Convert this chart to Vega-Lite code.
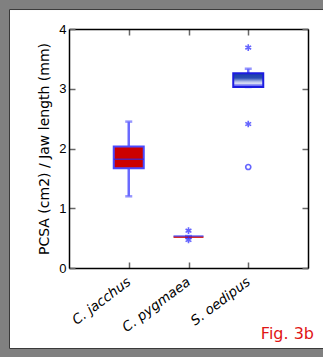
{
  "$schema": "https://vega.github.io/schema/vega-lite/v6.json",
  "width": 239,
  "height": 239,
  "autosize": {"type": "none"},
  "padding": {"left": 69, "top": 29, "right": 15, "bottom": 89},
  "background": "#808080",
  "config": {"view": {"stroke": null}},
  "title": {
    "text": "Fig. 3b",
    "orient": "bottom",
    "anchor": "end",
    "frame": "group",
    "offset": -23,
    "dx": 6,
    "font": "DejaVu Sans",
    "fontSize": 16,
    "fontWeight": "normal",
    "color": "#e01515"
  },
  "datasets": {
    "boxes": [
      {"sp": "C. jacchus", "lo": 1.2, "q1": 1.67, "med": 1.82, "q3": 2.035, "hi": 2.45},
      {"sp": "C. pygmaea", "lo": 0.505, "q1": 0.505, "med": 0.535, "q3": 0.53, "hi": 0.535},
      {"sp": "S. oedipus", "lo": 3.03, "q1": 3.03, "med": 3.06, "q3": 3.26, "hi": 3.335}
    ],
    "outliers": [
      {"sp": "C. pygmaea", "v": 0.625, "kind": "star"},
      {"sp": "C. pygmaea", "v": 0.47, "kind": "star"},
      {"sp": "S. oedipus", "v": 3.69, "kind": "star"},
      {"sp": "S. oedipus", "v": 2.41, "kind": "star"},
      {"sp": "S. oedipus", "v": 1.69, "kind": "circle"}
    ],
    "frame": [{"x0": -0.9958, "x1": 4.6, "y0": 4.326, "y1": -1.3473}]
  },
  "layer": [
    {
      "data": {"name": "frame"},
      "mark": {"type": "rect", "fill": "white", "stroke": "#3a3a3a", "strokeWidth": 1, "clip": false},
      "encoding": {
        "x": {"field": "x0", "type": "quantitative", "scale": {"domain": [0, 4], "nice": false, "zero": false}, "axis": null},
        "x2": {"field": "x1"},
        "y": {"field": "y0", "type": "quantitative", "scale": {"domain": [0, 4], "nice": false, "zero": false}, "axis": null},
        "y2": {"field": "y1"}
      }
    },
    {
      "layer": [
        {
          "data": {"name": "boxes"},
          "mark": {"type": "rule", "color": "#6a6aff", "strokeWidth": 2.5},
          "encoding": {
            "x": {
              "field": "sp", "type": "nominal",
              "scale": {"type": "point", "padding": 1, "domain": ["C. jacchus", "C. pygmaea", "S. oedipus"]},
              "axis": {
                "orient": "bottom", "title": null, "grid": false, "zindex": 1,
                "domainColor": "black", "domainWidth": 1.5,
                "tickColor": "#666666", "tickWidth": 1.5, "tickSize": -6,
                "labelAngle": -37, "labelAlign": "right", "labelBaseline": "middle",
                "labelPadding": 18, "labelFont": "DejaVu Sans", "labelFontStyle": "italic",
                "labelFontSize": 13.5, "labelColor": "black"
              }
            },
            "y": {
              "field": "lo", "type": "quantitative",
              "scale": {"domain": [0, 4], "nice": false},
              "axis": {
                "orient": "left", "values": [0, 1, 2, 3, 4], "grid": false, "zindex": 1,
                "domainColor": "black", "domainWidth": 1.5,
                "tickColor": "#666666", "tickWidth": 1.5, "tickSize": -6,
                "labelPadding": 9, "labelFont": "Liberation Sans", "labelFontSize": 13, "labelColor": "black",
                "title": "PCSA (cm2) / Jaw length (mm)",
                "titleFont": "DejaVu Sans", "titleFontSize": 14, "titleFontWeight": "normal",
                "titleColor": "black", "titlePadding": 7
              }
            },
            "y2": {"field": "hi"}
          }
        },
        {
          "data": {"name": "boxes"},
          "mark": {"type": "tick", "orient": "horizontal", "size": 7, "thickness": 2.5, "color": "#6a6aff"},
          "encoding": {
            "x": {"field": "sp", "type": "nominal", "axis": null},
            "y": {"field": "hi", "type": "quantitative", "axis": null}
          }
        },
        {
          "data": {"name": "boxes"},
          "mark": {"type": "tick", "orient": "horizontal", "size": 7, "thickness": 2.5, "color": "#6a6aff"},
          "encoding": {
            "x": {"field": "sp", "type": "nominal", "axis": null},
            "y": {"field": "lo", "type": "quantitative", "axis": null}
          }
        },
        {
          "data": {"name": "boxes"},
          "transform": [{"filter": "datum.sp === 'C. jacchus'"}],
          "mark": {"type": "bar", "size": 30, "fill": "#cc0000", "stroke": "#4a4aff", "strokeWidth": 2},
          "encoding": {
            "x": {"field": "sp", "type": "nominal", "axis": null},
            "y": {"field": "q1", "type": "quantitative", "axis": null},
            "y2": {"field": "q3"}
          }
        },
        {
          "data": {"name": "boxes"},
          "transform": [{"filter": "datum.sp === 'C. pygmaea'"}],
          "mark": {"type": "bar", "size": 30, "fill": "#cc0000"},
          "encoding": {
            "x": {"field": "sp", "type": "nominal", "axis": null},
            "y": {"field": "q1", "type": "quantitative", "axis": null},
            "y2": {"field": "q3"}
          }
        },
        {
          "data": {"name": "boxes"},
          "transform": [{"filter": "datum.sp === 'S. oedipus'"}],
          "mark": {
            "type": "bar", "size": 30, "stroke": "#1c1ce0", "strokeWidth": 2,
            "fill": {
              "gradient": "linear", "x1": 0, "y1": 0, "x2": 0, "y2": 1,
              "stops": [
                {"offset": 0, "color": "#1a3ca8"},
                {"offset": 0.35, "color": "#2a4cb4"},
                {"offset": 0.65, "color": "#c4ccee"},
                {"offset": 1, "color": "#ffffff"}
              ]
            }
          },
          "encoding": {
            "x": {"field": "sp", "type": "nominal", "axis": null},
            "y": {"field": "q1", "type": "quantitative", "axis": null},
            "y2": {"field": "q3"}
          }
        },
        {
          "data": {"name": "boxes"},
          "mark": {"type": "tick", "orient": "horizontal", "size": 30, "thickness": 1.5, "color": "#2a2af0"},
          "encoding": {
            "x": {
              "field": "sp", "type": "nominal",
              "axis": {
                "orient": "top", "labels": false, "title": null, "grid": false, "zindex": 1,
                "domainColor": "black", "domainWidth": 1.5,
                "tickColor": "#666666", "tickWidth": 1.5, "tickSize": -6
              }
            },
            "y": {
              "field": "med", "type": "quantitative",
              "axis": {
                "orient": "right", "values": [0, 1, 2, 3, 4], "labels": false, "title": null, "grid": false, "zindex": 1,
                "domainColor": "black", "domainWidth": 1.5,
                "tickColor": "#666666", "tickWidth": 1.5, "tickSize": -6
              }
            }
          }
        },
        {
          "data": {"name": "outliers"},
          "mark": {"type": "point", "filled": false, "strokeWidth": 1.6, "color": "#2424ff"},
          "encoding": {
            "x": {"field": "sp", "type": "nominal", "axis": null},
            "y": {"field": "v", "type": "quantitative", "axis": null},
            "shape": {
              "field": "kind", "type": "nominal", "legend": null,
              "scale": {
                "domain": ["star", "circle"],
                "range": ["M0,-1L0,1M-0.866,-0.5L0.866,0.5M-0.866,0.5L0.866,-0.5", "circle"]
              }
            },
            "size": {
              "field": "kind", "type": "nominal", "legend": null,
              "scale": {"domain": ["star", "circle"], "range": [45, 26]}
            }
          }
        }
      ],
      "resolve": {"axis": {"x": "independent", "y": "independent"}}
    }
  ],
  "resolve": {"scale": {"x": "independent", "y": "independent"}, "axis": {"x": "independent", "y": "independent"}}
}
